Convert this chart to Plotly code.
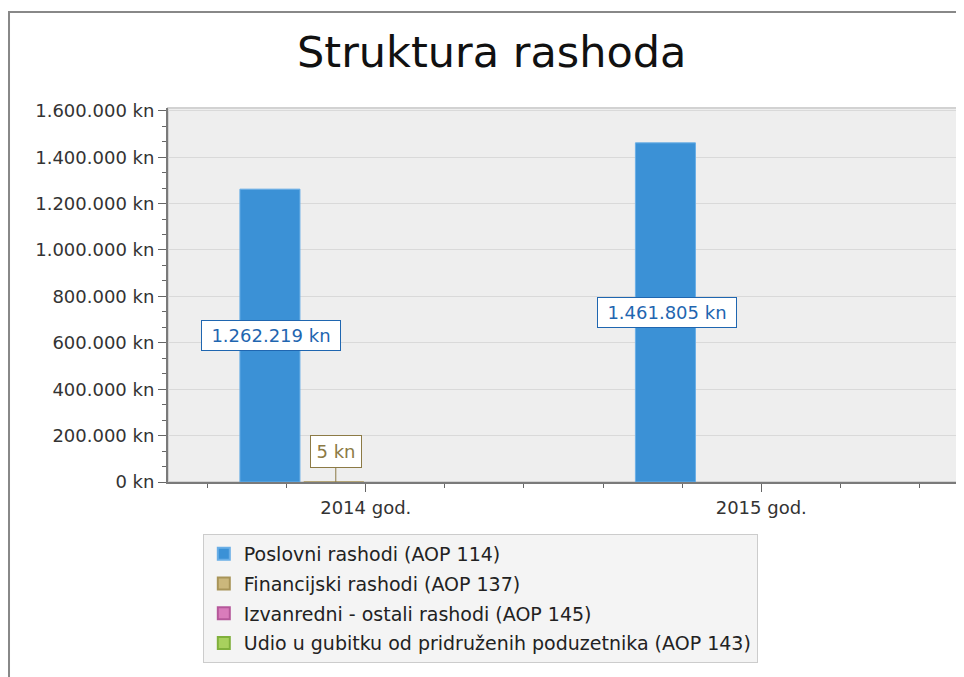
import plotly.graph_objects as go

# data
years = ["2014 god.", "2015 god."]
series_names = [
    "Poslovni rashodi (AOP 114)",
    "Financijski rashodi (AOP 137)",
    "Izvanredni - ostali rashodi (AOP 145)",
    "Udio u gubitku od pridruženih poduzetnika (AOP 143)",
]
poslovni = [1262219, 1461805]
financijski = [5, None]
izvanredni = [None, None]
udio = [None, None]
series_values = [poslovni, financijski, izvanredni, udio]

FONT = "DejaVu Sans, Verdana, sans-serif"
fill_colors = ["#3b91d6", "#cbb77c", "#d97cbb", "#a8d15e"]
edge_colors = ["#6aaee6", "#a89458", "#b5589a", "#80b03c"]
label_colors = ["#1f66b0", "#8c7a45", "#a0407f", "#5f8f25"]

BARGAP = 0.354
BARGROUPGAP = 0.06
Y_MAX = 1612000
Y_STEP = 200000


def kn(v):
    return f"{v:,}".replace(",", ".") + " kn"


x_pos = list(range(len(years)))

fig = go.Figure()
for name, vals, fc, ec in zip(series_names, series_values, fill_colors, edge_colors):
    fig.add_trace(
        go.Bar(
            x=x_pos,
            y=vals,
            name=name,
            legendgroup=name,
            marker=dict(color=fc, line=dict(color=ec, width=1)),
        )
    )

# boxed value labels (big ones sit mid-bar, tiny ones get a leader line)
n_series = len(series_names)
slot = (1 - BARGAP) / n_series
annotations = []
for k, vals in enumerate(series_values):
    for i, v in enumerate(vals):
        if v is None:
            continue
        xk = i + (k - (n_series - 1) / 2) * slot
        big = v > 100000
        annotations.append(
            dict(
                x=xk + (0.003 if big else 0.005),
                y=v / 2 if big else v,
                text=kn(v),
                showarrow=not big,
                arrowhead=0,
                arrowwidth=1,
                arrowcolor=label_colors[k],
                ax=0,
                ay=-31,
                standoff=0,
                width=136 if big else 48,
                height=27 if big else 29,
                font=dict(family=FONT, size=18, color=label_colors[k]),
                bgcolor="white",
                bordercolor=label_colors[k],
                borderwidth=1,
                borderpad=1,
            )
        )

minor_y = [i * Y_STEP / 3 for i in range(int(Y_MAX / (Y_STEP / 3)) + 1)]

fig.update_layout(
    width=956,
    height=669,
    margin=dict(l=160, r=5, t=100, b=195),
    paper_bgcolor="white",
    plot_bgcolor="#eeeeee",
    separators=",.",
    barmode="group",
    bargap=BARGAP,
    bargroupgap=BARGROUPGAP,
    font=dict(family=FONT, size=18, color="#333333"),
    title=dict(
        text="Struktura rashoda",
        x=0.506,
        xref="container",
        xanchor="center",
        y=0.934,
        yanchor="middle",
        font=dict(family=FONT, size=43, color="#111111"),
    ),
    xaxis=dict(
        range=[-0.5, 1.5],
        tickmode="array",
        tickvals=x_pos,
        ticktext=years,
        showgrid=False,
        zeroline=False,
        showline=True,
        linecolor="#7a7a7a",
        linewidth=2,
        ticks="outside",
        ticklen=8,
        tickcolor="#666666",
        minor=dict(dtick=0.2, tick0=0, ticks="outside", ticklen=4, tickcolor="#666666", showgrid=False),
        tickfont=dict(family=FONT, size=18, color="#333333"),
        fixedrange=True,
    ),
    yaxis=dict(
        range=[0, Y_MAX],
        dtick=Y_STEP,
        tick0=0,
        tickformat=",.0f",
        ticksuffix=" kn",
        showgrid=True,
        gridcolor="#d9d9d9",
        gridwidth=1,
        zeroline=False,
        showline=True,
        linecolor="#7a7a7a",
        linewidth=2,
        ticks="outside",
        ticklen=8,
        tickcolor="#666666",
        minor=dict(tickmode="array", tickvals=minor_y, ticks="outside", ticklen=4,
                   tickcolor="#666666", showgrid=False),
        tickfont=dict(family=FONT, size=18, color="#333333"),
    ),
    legend=dict(
        x=0.044,
        y=-0.139,
        xanchor="left",
        yanchor="top",
        bgcolor="#f4f4f4",
        bordercolor="#cccccc",
        borderwidth=1,
        font=dict(family=FONT, size=19, color="#222222"),
        tracegroupgap=2,
        itemsizing="constant",
    ),
    annotations=annotations,
    shapes=[
        # light border around the plot area
        dict(type="rect", xref="paper", yref="paper", x0=0, x1=1, y0=0, y1=1,
             line=dict(color="#d2d2d2", width=2), layer="below"),
        # outer frame of the chart control
        dict(type="rect", xref="paper", yref="paper", x0=-0.201, x1=1.2, y0=-0.6, y1=1.2567,
             line=dict(color="#888888", width=2), layer="below"),
    ],
    showlegend=True,
)

fig.write_html("out.html")
